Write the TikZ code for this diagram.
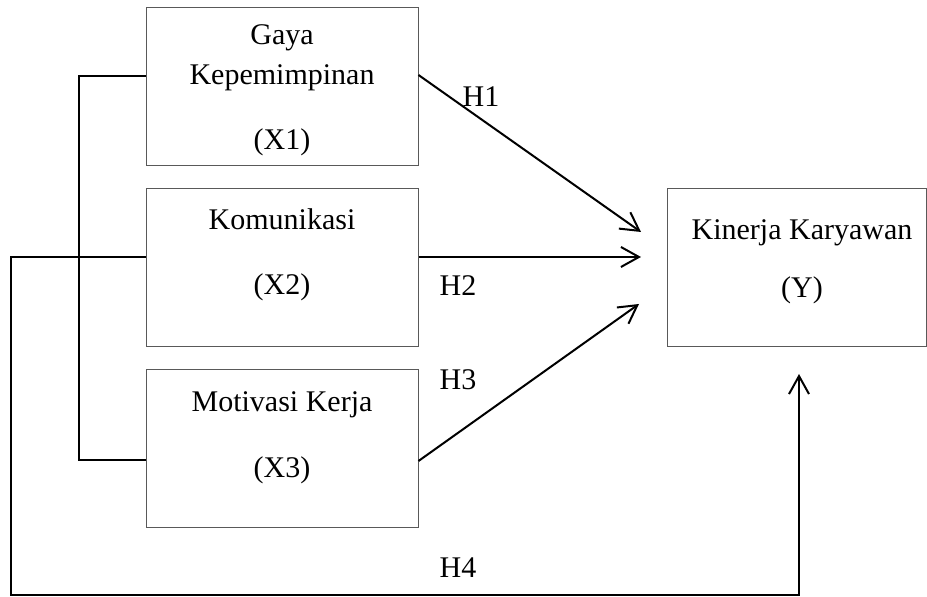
\documentclass[tikz,border=0pt]{standalone}
\usepackage{fontspec}
\setmainfont{Liberation Serif}
\usetikzlibrary{arrows.meta}
\begin{document}
\begin{tikzpicture}[x=0.5pt,y=-0.5pt,
  box/.style={draw=black!65, line width=0.5pt, rectangle, inner sep=0pt},
  txt/.style={anchor=base, inner sep=0pt, font=\fontsize{15pt}{18pt}\selectfont},
  conn/.style={line width=1pt, black},
  arr/.style={conn, -{Straight Barb[length=9pt,width=10pt,line width=1pt]}}]
\useasboundingbox (0,0) rectangle (927,597);
% boxes
\node[box, minimum width=136pt, minimum height=79pt] (x1) at (282,87) {};
\node[box, minimum width=136pt, minimum height=79pt] (x2) at (282,268) {};
\node[box, minimum width=136pt, minimum height=79pt] (x3) at (282,449) {};
\node[box, minimum width=129.5pt, minimum height=79pt] (yb) at (796.5,268) {};
% box texts
\node[txt] (gaya) at (282,45) {Gaya};
\node[txt] (kep) at (282,85) {Kepemimpinan};
\node[txt] (x1l) at (282,150) {(X1)};
\node[txt] (kom) at (282,230) {Komunikasi};
\node[txt] (x2l) at (282,295) {(X2)};
\node[txt] (mot) at (282,412) {Motivasi Kerja};
\node[txt] (x3l) at (282,478) {(X3)};
\node[txt] (kin) at (802,240) {Kinerja Karyawan};
\node[txt] (yl) at (802,298) {(Y)};
% hypothesis labels
\node[txt] (h1) at (481,107) {H1};
\node[txt] (h2) at (458,296) {H2};
\node[txt] (h3) at (458,390) {H3};
\node[txt] (h4) at (458,578) {H4};
% arrow end points
\coordinate (e1) at (641,232);
\coordinate (e2) at (641,257);
\coordinate (e3) at (639,304);
\coordinate (e4) at (799,374);
\coordinate (b1) at (79,76);
\coordinate (b3) at (79,460);
\coordinate (o1) at (11,257);
\coordinate (o2) at (11,595);
\coordinate (o3) at (799,595);
% connectors
\draw[arr] ([yshift=6pt]x1.east) -- (e1);
\draw[arr] ([yshift=5.5pt]x2.east) -- (e2);
\draw[arr] ([yshift=-6pt]x3.east) -- (e3);
\draw[conn] ([yshift=5.5pt]x1.west) -- (b1) -- (b3) -- ([yshift=-5.5pt]x3.west);
\draw[arr] ([yshift=5.5pt]x2.west) -- (o1) -- (o2) -- (o3) -- (e4);
\end{tikzpicture}
\end{document}
